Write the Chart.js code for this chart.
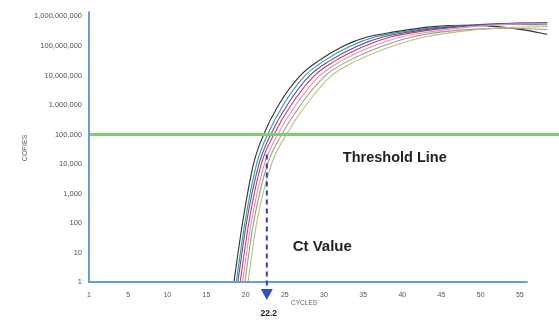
<!DOCTYPE html>
<html>
<head>
<meta charset="utf-8">
<script src="https://cdn.jsdelivr.net/npm/chart.js@4/dist/chart.umd.min.js"></script>
<style>
  html, body { margin: 0; padding: 0; background: #fff; }
  #wrap { width: 559px; height: 323px; position: relative; }
</style>
</head>
<body>
<div id="wrap"><canvas id="c" width="559" height="323"></canvas></div>
<script>
// ---- data ----
const xTickValues = [0, 5, 10, 15, 20, 25, 30, 35, 40, 45, 50, 55];
const xTickLabels = ['1', '5', '10', '15', '20', '25', '30', '35', '40', '45', '50', '55'];
const yTickValues = [1, 10, 100, 1000, 10000, 100000, 1000000, 10000000, 100000000, 1000000000];
const yTickLabels = ['1', '10', '100', '1,000', '10,000', '100,000', '1,000,000', '10,000,000', '100,000,000', '1,000,000,000'];

const thresholdValue = 100000;
const ctValue = 22.7;
const ctLabel = '22.2';
const xAxisEnd = 56;

const cyclesBlack = [18.5, 19.6, 21.0, 22.3, 24.2, 27.0, 29.2, 32.5, 35.5, 39, 44, 48, 52, 55.5, 58.5];
const copiesBlack = [1, 100, 10000, 100000, 1000000, 10000000, 30000000, 100000000, 200000000, 300000000, 450000000, 500000000, 450000000, 350000000, 250000000];

const cyclesTeal = [18.8, 19.9, 21.4, 22.8, 24.8, 27.6, 29.9, 33.4, 36.5, 40, 45.5, 50, 54, 58.5];
const copiesTeal = [1, 100, 10000, 100000, 1000000, 10000000, 30000000, 100000000, 200000000, 300000000, 450000000, 520000000, 540000000, 520000000];

const cyclesBlue = [19.0, 20.1, 21.7, 23.2, 25.3, 28.2, 30.6, 34.3, 37.5, 41, 46.5, 51, 55, 58.5];
const copiesBlue = [1, 100, 10000, 100000, 1000000, 10000000, 30000000, 100000000, 200000000, 300000000, 450000000, 550000000, 600000000, 620000000];

const cyclesRed = [19.3, 20.4, 22.0, 23.6, 25.8, 28.8, 31.3, 35.2, 38.5, 42, 47.5, 52, 56, 58.5];
const copiesRed = [1, 100, 10000, 100000, 1000000, 10000000, 30000000, 100000000, 200000000, 300000000, 450000000, 550000000, 600000000, 600000000];

const cyclesPink = [19.6, 20.7, 22.4, 24.1, 26.4, 29.5, 32.1, 36.3, 39.8, 43.5, 49, 54, 58.5];
const copiesPink = [1, 100, 10000, 100000, 1000000, 10000000, 30000000, 100000000, 200000000, 300000000, 450000000, 550000000, 570000000];

const cyclesGray = [19.9, 21.0, 22.8, 24.6, 27.0, 30.2, 33.0, 37.5, 41.2, 45, 50, 54, 58.5];
const copiesGray = [1, 100, 10000, 100000, 1000000, 10000000, 30000000, 100000000, 200000000, 300000000, 380000000, 400000000, 360000000];

const cyclesOlive = [20.3, 21.4, 23.3, 25.2, 27.7, 31.0, 34.0, 38.8, 42.8, 47, 52, 56, 58.5];
const copiesOlive = [1, 100, 10000, 100000, 1000000, 10000000, 30000000, 100000000, 200000000, 300000000, 400000000, 440000000, 450000000];

// ---- build datasets ----
function pts(xs, ys) { return xs.map((x, i) => ({ x: x, y: ys[i] })); }
function curve(xs, ys, color) {
  return { data: pts(xs, ys), borderColor: color, borderWidth: 1.1, pointRadius: 0,
           fill: false, cubicInterpolationMode: 'monotone' };
}

const datasets = [
  { data: [{ x: 0, y: thresholdValue }, { x: 60, y: thresholdValue }], borderColor: '#7fcd72',
    borderWidth: 3, pointRadius: 0, fill: false },
  curve(cyclesOlive, copiesOlive, '#c2ba7c'),
  curve(cyclesGray, copiesGray, '#9a9a9a'),
  curve(cyclesPink, copiesPink, '#e890b0'),
  curve(cyclesBlue, copiesBlue, '#4656b0'),
  curve(cyclesTeal, copiesTeal, '#3f9590'),
  curve(cyclesRed, copiesRed, '#d23a58'),
  curve(cyclesBlack, copiesBlack, '#2e2e2e'),
];

const FONT = '"Liberation Sans", Arial, sans-serif';

const overlay = {
  id: 'overlay',
  afterDatasetsDraw(chart) {
    const ctx = chart.ctx;
    const xs = chart.scales.x, ys = chart.scales.y;
    const area = chart.chartArea;
    ctx.save();
    // axes lines
    ctx.strokeStyle = '#6c9bd8';
    ctx.lineWidth = 2;
    ctx.beginPath();
    ctx.moveTo(xs.getPixelForValue(0), area.top);
    ctx.lineTo(xs.getPixelForValue(0), ys.getPixelForValue(1));
    ctx.lineTo(xs.getPixelForValue(xAxisEnd), ys.getPixelForValue(1));
    ctx.stroke();

    // Ct dashed line and arrow
    const cx = xs.getPixelForValue(ctValue);
    const yTop = ys.getPixelForValue(thresholdValue) + 20;
    const yBot = ys.getPixelForValue(1);
    ctx.strokeStyle = '#2f3fb5';
    ctx.lineWidth = 2;
    ctx.setLineDash([5, 4]);
    ctx.beginPath();
    ctx.moveTo(cx, yTop);
    ctx.lineTo(cx, yBot + 8);
    ctx.stroke();
    ctx.setLineDash([]);
    ctx.fillStyle = '#3350c0';
    ctx.beginPath();
    ctx.moveTo(cx - 6, yBot + 7);
    ctx.lineTo(cx + 6, yBot + 7);
    ctx.lineTo(cx, yBot + 18);
    ctx.closePath();
    ctx.fill();

    // texts
    ctx.fillStyle = '#222';
    ctx.font = 'bold 8.5px ' + FONT;
    ctx.textAlign = 'center';
    ctx.textBaseline = 'middle';
    ctx.fillText(ctLabel, cx + 2, yBot + 32);

    ctx.textAlign = 'left';
    ctx.font = 'bold 14.5px ' + FONT;
    ctx.fillText('Threshold Line', xs.getPixelForValue(32.4), ys.getPixelForValue(thresholdValue) + 24);
    ctx.font = 'bold 15px ' + FONT;
    ctx.fillText('Ct Value', xs.getPixelForValue(26.0), ys.getPixelForValue(15));

    ctx.fillStyle = '#666';
    ctx.font = '6.5px ' + FONT;
    ctx.textAlign = 'center';
    ctx.fillText('CYCLES', xs.getPixelForValue(27.2) + 2, yBot + 21);

    ctx.save();
    ctx.translate(25, ys.getPixelForValue(35000));
    ctx.rotate(-Math.PI / 2);
    ctx.font = '7px ' + FONT;
    ctx.fillText('COPIES', 0, 0);
    ctx.restore();
    ctx.restore();
  }
};

new Chart(document.getElementById('c'), {
  type: 'line',
  data: { datasets: datasets },
  plugins: [overlay],
  options: {
    responsive: false,
    animation: false,
    layout: { padding: { top: 10, right: 0, left: 0, bottom: 0 } },
    plugins: { legend: { display: false }, tooltip: { enabled: false } },
    scales: {
      x: {
        type: 'linear', min: 0, max: 60,
        grid: { display: false, drawTicks: false },
        border: { display: false },
        afterBuildTicks: (s) => { s.ticks = xTickValues.map(v => ({ value: v })); },
        afterFit: (s) => { s.height = 41; },
        ticks: {
          padding: 9, color: '#555',
          font: { size: 7, family: FONT },
          maxRotation: 0, autoSkip: false,
          callback: (v, i) => xTickLabels[i]
        }
      },
      y: {
        type: 'logarithmic', min: 1, max: 1470000000,
        grid: { display: false, drawTicks: false },
        border: { display: false },
        afterBuildTicks: (s) => { s.ticks = yTickValues.map(v => ({ value: v })); },
        afterFit: (s) => { s.width = 89; },
        ticks: {
          padding: 7, color: '#555',
          font: { size: 7.5, family: FONT },
          autoSkip: false,
          callback: (v, i) => yTickLabels[i]
        }
      }
    }
  }
});
</script>
</body>
</html>
